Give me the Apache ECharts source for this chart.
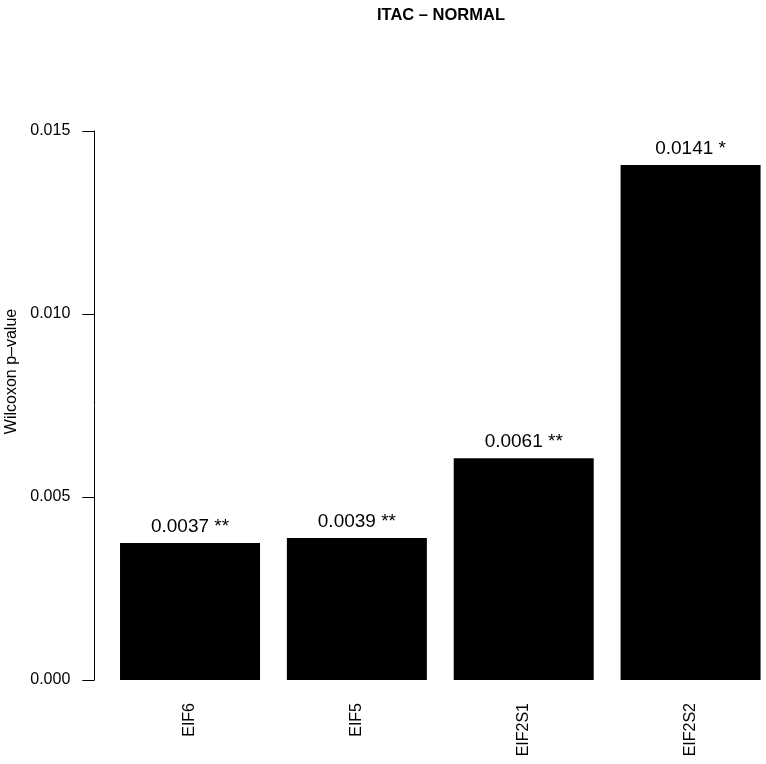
<!DOCTYPE html>
<html>
<head>
<meta charset="utf-8">
<script src="https://cdn.jsdelivr.net/npm/echarts@6/dist/echarts.min.js"></script>
<style>
  html, body { margin: 0; padding: 0; background: #fff; }
  #chart { width: 766px; height: 764px; }
</style>
</head>
<body>
<div id="chart"></div>
<script>
// data
const genes = ['EIF6', 'EIF5', 'EIF2S1', 'EIF2S2'];
const pValues = [0.00374, 0.00388, 0.00606, 0.01407];
const stars = ['**', '**', '**', '*'];
const yTicks = [0, 0.005, 0.010, 0.015];

const font = "'Liberation Sans', Arial, Helvetica, sans-serif";
const chart = echarts.init(document.getElementById('chart'));

const option = {
  animation: false,
  backgroundColor: '#fff',
  title: {
    text: 'ITAC \u2013 NORMAL',
    left: 436,
    top: 2,
    textAlign: 'center',
    textStyle: { fontFamily: font, fontSize: 16.5, fontWeight: 'bold', color: '#000' }
  },
  grid: {
    left: 106.6, right: -8, top: 131, bottom: 84,
    containLabel: false,
    outerBoundsMode: 'none'
  },
  xAxis: {
    type: 'category',
    data: genes,
    axisLine: { show: false },
    axisTick: { show: false },
    axisLabel: { rotate: 90, margin: 23, fontFamily: font, fontSize: 16, color: '#000' }
  },
  yAxis: {
    type: 'value',
    min: yTicks[0],
    max: yTicks[yTicks.length - 1],
    interval: 0.005,
    offset: 12.3,
    name: 'Wilcoxon p\u2013value',
    nameLocation: 'middle',
    nameGap: 69,
    nameTextStyle: { fontFamily: font, fontSize: 16, color: '#000', padding: [0, 0, 0, 68] },
    axisLine: { show: true, lineStyle: { color: '#000', width: 1 } },
    axisTick: { show: true, length: 12, lineStyle: { color: '#000', width: 1 } },
    splitLine: { show: false },
    axisLabel: {
      margin: 24,
      fontFamily: font,
      fontSize: 16,
      color: '#000',
      formatter: v => v.toFixed(3)
    }
  },
  series: [{
    type: 'bar',
    data: pValues,
    barWidth: 140,
    itemStyle: { color: '#000' },
    label: {
      show: true,
      position: 'top',
      distance: 7,
      fontFamily: font,
      fontSize: 19,
      color: '#000',
      formatter: p => p.value.toFixed(4) + ' ' + stars[p.dataIndex]
    }
  }]
};

chart.setOption(option);
</script>
</body>
</html>
